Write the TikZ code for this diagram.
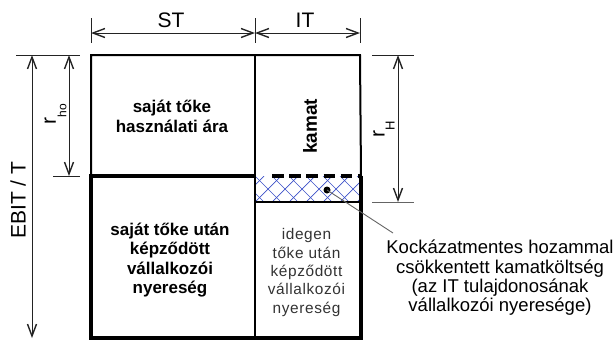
\documentclass[tikz,border=0pt]{standalone}
\usepackage{fontspec}
\setmainfont{Liberation Sans}
\usetikzlibrary{arrows.meta}
\definecolor{hatchblue}{RGB}{60,80,200}
\definecolor{dimgray}{RGB}{35,35,35}
\definecolor{leadgray}{RGB}{100,100,100}
\begin{document}
\begin{tikzpicture}[x=1pt,y=-1pt,
  frame/.style={line width=2pt},
  heavy/.style={line width=4.5pt},
  barb/.tip={Straight Barb[length=12pt,width=9pt,line width=1.4pt]},
  dimline/.style={draw=dimgray, line width=0.8pt, barb-barb},
  extline/.style={draw=dimgray, line width=0.8pt},
  lbl/.style={font=\fontsize{21}{24}\selectfont, inner sep=0pt},
  boldtxt/.style={font=\fontsize{17}{19.5}\selectfont\bfseries, align=center, inner sep=0pt},
  thintxt/.style={font=\fontsize{15.4}{18.3}\selectfont\addfontfeature{LetterSpace=4}, text=black!80, align=center, inner sep=0pt},
  notetxt/.style={font=\fontsize{18.5}{19.3}\selectfont, align=center, inner sep=0pt},
  sub/.style={}
]
\useasboundingbox (0,0) rectangle (616,341);

% corner points of the two columns
\coordinate (TL) at (91,55);   \coordinate (TM) at (255,55);  \coordinate (TR) at (360,55);
\coordinate (ML) at (91,176);  \coordinate (MM) at (255,176); \coordinate (MR) at (361,176);
\coordinate (HL) at (255,202); \coordinate (HR) at (361,202);
\coordinate (BL) at (91,338);  \coordinate (BM) at (255,338); \coordinate (BR) at (361,338);
\coordinate (DS) at (272,176);

% cross-hatched strip below the interest block
\begin{scope}
  \clip (MM) rectangle (HR);
  \foreach \i in {-3,...,8} {
    \draw[hatchblue, line width=0.7pt] (255+17*\i,176) -- (281+17*\i,202);
    \draw[hatchblue, line width=0.7pt] (255+17*\i,202) -- (281+17*\i,176);
  }
\end{scope}

% outlines
\draw[frame] (ML) -- (TL) -- (TR) -- (MR);
\draw[frame] (TM) -- (BM);
\draw[line width=1.4pt] (HL) -- (HR);
\draw[heavy, line join=miter] (MM) -- (ML) -- (BL) -- (BR) -- (MR);
\draw[heavy, dash pattern=on 11.5pt off 5.7pt] (DS) -- (MR);

% top dimension: ST and IT
\coordinate (e1a) at (91,18);  \coordinate (e1b) at (91,43);
\coordinate (e2a) at (255,18); \coordinate (e2b) at (255,43);
\coordinate (e3a) at (360,18); \coordinate (e3b) at (360,43);
\draw[extline] (e1a) -- (e1b);
\draw[extline] (e2a) -- (e2b);
\draw[extline] (e3a) -- (e3b);
\coordinate (d1) at (91,33); \coordinate (d2) at (255,33); \coordinate (d3) at (360,33);
\draw[dimline] (d1) -- (d2);
\draw[dimline] (d2) -- (d3);
\node[lbl] (st) at (171,20.5) {ST};
\node[lbl] (it) at (305,20.5) {IT};

% left dimensions: EBIT/T and r_ho
\coordinate (l1a) at (16,55);  \coordinate (l1b) at (80,55);
\coordinate (l2a) at (53,176); \coordinate (l2b) at (80,176);
\draw[extline] (l1a) -- (l1b);
\draw[extline] (l2a) -- (l2b);
\coordinate (eb1) at (32,55);  \coordinate (eb2) at (32,338);
\coordinate (rh1) at (69,55);  \coordinate (rh2) at (69,176);
\draw[dimline] (eb1) -- (eb2);
\draw[dimline] (rh1) -- (rh2);
\node[lbl, rotate=90] (ebit) at (18,200) {EBIT / T};
\node[lbl, rotate=90] (rho) at (55.5,114) {r\raisebox{-10.5pt}{\fontsize{12}{12}\selectfont ho}};

% right dimension: r_H
\coordinate (r1a) at (372,55);  \coordinate (r1b) at (414,55);
\coordinate (r2a) at (372,202); \coordinate (r2b) at (414,202);
\draw[extline] (r1a) -- (r1b);
\draw[extline, draw=leadgray] (r2a) -- (r2b);
\coordinate (rr1) at (398,55); \coordinate (rr2) at (398,202);
\draw[dimline] (rr1) -- (rr2);
\node[lbl, rotate=90] (rH) at (384,129.5) {r\raisebox{-10pt}{\fontsize{13}{13}\selectfont H}};

% block texts
\node[boldtxt] (price) at (172,116.5) {saját tőke\\használati ára};
\node[font=\fontsize{19}{20}\selectfont\bfseries, rotate=90, inner sep=0pt] (kamat) at (310,126.5) {kamat};
\node[boldtxt] (ownprofit) at (170,260) {saját tőke után\\képződött\\vállalkozói\\nyereség};
\node[thintxt] (debtprofit) at (306.5,272.5) {idegen\\tőke után\\képződött\\vállalkozói\\nyereség};

% note with leader to the hatched strip
\node[circle, fill=black, inner sep=0pt, minimum size=7pt] (dot) at (327,190) {};
\coordinate (lead) at (393,233);
\draw[leadgray, line width=0.9pt] (dot.center) -- (lead);
\node[notetxt] (note) at (500,278) {Kockázatmentes hozammal\\csökkentett kamatköltség\\(az IT tulajdonosának\\vállalkozói nyeresége)};
\end{tikzpicture}
\end{document}
